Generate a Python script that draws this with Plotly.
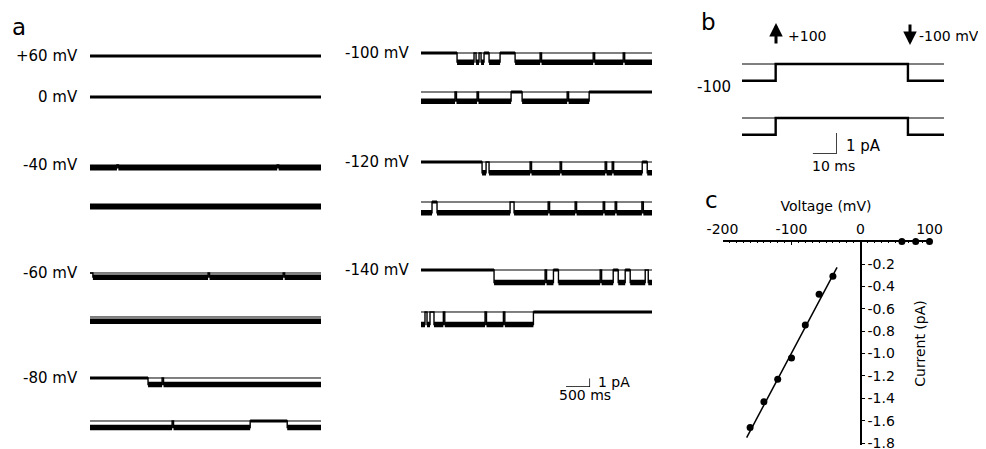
import plotly.graph_objects as go

W, H = 986, 449
FONT = "DejaVu Sans"
PAGE_OFFSET = 8  # the page body margin shifts the figure by this many pixels

# ---------------- data ----------------
# panel c: current-voltage relation
iv_voltage = [-160, -140, -120, -100, -80, -60, -40, 60, 80, 100]
iv_current = [-1.66, -1.43, -1.23, -1.04, -0.745, -0.47, -0.31, 0.0, 0.0, 0.0]
fit_voltage = [-165, -34]
fit_current = [-1.75, -0.23]
iv_xticks = [-200, -100, 0, 100]
iv_yticks = [-0.2, -0.4, -0.6, -0.8, -1.0, -1.2, -1.4, -1.6, -1.8]

# panel a: single-channel records (ms), unitary amplitude from IV (pA)
trace_duration_ms = 4800
flicker_ms = 30
trace_voltage = [60, 0, -40, -40, -60, -60, -80, -80,
                 -100, -100, -120, -120, -140, -140]
trace_open = [
    [], [],
    [[0, 4800]], [[0, 4800]],
    [[60, 4800]], [[0, 4800]],
    [[1206, 4800]], [[0, 3328], [4098, 4800]],
    [[749, 1102], [1144, 1206], [1248, 1310], [1414, 1643], [1955, 4800]],
    [[0, 1872], [2101, 3494]],
    [[1269, 1352], [1414, 4597], [4701, 4800]],
    [[0, 229], [333, 1851], [1934, 4800]],
    [[1518, 2752], [2856, 3994], [4098, 4243], [4347, 4659], [4722, 4800]],
    [[0, 83], [125, 187], [270, 2336]],
]
trace_flickers = [
    [], [], [560, 3890], [], [2454, 4014], [], [1498], [1706],
    [2475, 3578, 4202], [707, 1165, 3037], [2267, 2891, 3827, 3973],
    [2642, 3203, 3786, 4035, 4590], [2579, 3723], [464, 1331, 1712],
]
trace_labels = ["+60 mV", "0 mV", "-40 mV", "", "-60 mV", "", "-80 mV", "",
                "-100 mV", "", "-120 mV", "", "-140 mV", ""]
scale_a_ms, scale_a_pA = 500, 1

# panel b: voltage jump -100 -> +100 -> -100 mV
b_duration_ms = 84
b_pulse_on_ms = 14
b_pulse_off_ms = 69
b_open_current = -0.8
b_pulse_current = 0.0
scale_b_ms, scale_b_pA = 10, 1

unit_current = dict(zip(iv_voltage, iv_current))
unit_current[0] = 0.0

# ---------------- layout helpers ----------------
def fx(px):
    return (px - PAGE_OFFSET) / W

def fy(py):
    return 1 - (py - PAGE_OFFSET) / H

# trace placement (pixels): closed-level row and left edge
row_y = [56, 97, 165, 204, 273, 317, 378, 421, 53, 92, 162, 202, 270, 312]
col_x0 = [90] * 8 + [421] * 6
TRACE_W = 231
PX_PER_PA = 8.8
Y_LO, Y_HI = -2.2, 0.8

fig = go.Figure()
layout = {}
annotations = []
ax_n = [0]


def new_axes(x0, x1, ytop, ybot, xr, yr):
    ax_n[0] += 1
    n = ax_n[0]
    s = "" if n == 1 else str(n)
    layout["xaxis" + s] = dict(domain=[fx(x0), fx(x1)], range=xr, anchor="y" + s,
                               visible=False, fixedrange=True, automargin=False)
    layout["yaxis" + s] = dict(domain=[fy(ybot), fy(ytop)], range=yr, anchor="x" + s,
                               visible=False, fixedrange=True, automargin=False)
    return "x" + s, "y" + s


def segments(open_iv, flick, dur):
    segs = []
    t = 0
    for a, b in open_iv:
        if a > t:
            segs.append((t, a, False))
        cur = a
        for f in sorted(v for v in flick if a < v < b):
            segs.append((cur, f, True))
            e = min(f + flicker_ms, b)
            segs.append((f, e, False))
            cur = e
        segs.append((cur, b, True))
        t = b
    if t < dur:
        segs.append((t, dur, False))
    return segs


def line(xa, ya, xs, ys, w, color="black"):
    fig.add_trace(go.Scatter(x=xs, y=ys, xaxis=xa, yaxis=ya, mode="lines",
                             line=dict(color=color, width=w), hoverinfo="skip",
                             showlegend=False, cliponaxis=False))


for i, v in enumerate(trace_voltage):
    x0 = col_x0[i]
    yc = row_y[i]
    xa, ya = new_axes(x0, x0 + TRACE_W, yc - Y_HI * PX_PER_PA, yc - Y_LO * PX_PER_PA,
                      [0, trace_duration_ms], [Y_LO, Y_HI])
    lvl = unit_current[v]
    segs = segments(trace_open[i], trace_flickers[i], trace_duration_ms)
    if lvl != 0:
        line(xa, ya, [0, trace_duration_ms], [0, 0], 1.0)
    wx, wy = [], []
    ox, oy, cx, cy = [], [], [], []
    for s, e, op in segs:
        y = lvl if op else 0
        wx += [s, e]
        wy += [y, y]
        if op:
            ox += [s, e, None]
            oy += [y, y, None]
        elif e - s > 100:
            cx += [s, e, None]
            cy += [0, 0, None]
    line(xa, ya, wx, wy, 1.4)
    if cx:
        line(xa, ya, cx, cy, 3.2)
    if ox and lvl != 0:
        line(xa, ya, ox, oy, 5.5)
    if trace_labels[i]:
        annotations.append(dict(x=fx(x0 - 10), y=fy(yc), xref="paper", yref="paper",
                                text=trace_labels[i], showarrow=False, xanchor="right",
                                yanchor="middle", font=dict(size=15, family=FONT, color="black")))

# scale bar panel a
xa, ya = new_axes(566, 566 + 500 / 4800 * TRACE_W, 387 - PX_PER_PA, 387,
                  [0, scale_a_ms], [0, scale_a_pA])
line(xa, ya, [0, scale_a_ms, scale_a_ms], [0, 0, scale_a_pA], 1.5)
annotations.append(dict(x=fx(596), y=fy(382), xref="paper", yref="paper", text="1 pA",
                        showarrow=False, xanchor="left", yanchor="middle",
                        font=dict(size=14, family=FONT, color="black")))
annotations.append(dict(x=fx(585), y=fy(395), xref="paper", yref="paper", text="500 ms",
                        showarrow=False, xanchor="center", yanchor="middle",
                        font=dict(size=14, family=FONT, color="black")))

# ---------------- panel b ----------------
B_PX_PER_PA = 21
B_X0, B_X1 = 742, 944
for yc in [64, 118]:
    xa, ya = new_axes(B_X0, B_X1, yc - 0.4 * B_PX_PER_PA, yc + 1.2 * B_PX_PER_PA,
                      [0, b_duration_ms], [-1.2, 0.4])
    line(xa, ya, [0, b_duration_ms], [0, 0], 1.0)
    bx = [0, b_pulse_on_ms, b_pulse_on_ms, b_pulse_off_ms, b_pulse_off_ms, b_duration_ms]
    by = [b_open_current, b_open_current, b_pulse_current, b_pulse_current,
          b_open_current, b_open_current]
    line(xa, ya, bx, by, 2.4)

xa, ya = new_axes(812.7, 812.7 + scale_b_ms * (B_X1 - B_X0) / b_duration_ms,
                  154 - B_PX_PER_PA, 154, [0, scale_b_ms], [0, scale_b_pA])
line(xa, ya, [0, scale_b_ms, scale_b_ms], [0, 0, scale_b_pA], 1.5)

for txt, x, y, anc, sz in [("1 pA", 844, 146, "left", 15), ("10 ms", 833, 166, "center", 14),
                           ("+100", 786, 36, "left", 14), ("-100 mV", 917, 36, "left", 14),
                           ("-100", 733, 87, "right", 15)]:
    annotations.append(dict(x=fx(x), y=fy(y), xref="paper", yref="paper", text=txt,
                            showarrow=False, xanchor=anc, yanchor="middle",
                            font=dict(size=sz, family=FONT, color="black")))

for x, tip, tail in [(776, 23, 45), (910, 45, 23)]:
    annotations.append(dict(x=fx(x), y=fy(tip), xref="paper", yref="paper", text="",
                            showarrow=True, ax=0, ay=tail - tip, arrowhead=2,
                            arrowsize=0.9, arrowwidth=3, arrowcolor="black"))

# ---------------- panel c ----------------
ax_n[0] += 1
s = str(ax_n[0])
IV_X0, IV_X1 = 722.5, 929.5
IV_Y0, IV_Y1 = 241.6, 445.4
layout["xaxis" + s] = dict(domain=[fx(IV_X0), fx(IV_X1)], range=[-200, 100], anchor="y" + s,
                           side="top", showline=True, linecolor="black", linewidth=1.5,
                           ticks="inside", ticklen=4, tickcolor="black", tickwidth=1,
                           tickvals=iv_xticks, ticktext=[str(t) for t in iv_xticks],
                           minor=dict(ticks="inside", ticklen=2, dtick=10, tickcolor="black"),
                           showgrid=False, zeroline=False, fixedrange=True, automargin=False,
                           tickfont=dict(size=14, family=FONT, color="black"),
                           title=dict(text="Voltage (mV)", standoff=6,
                                      font=dict(size=14, family=FONT, color="black")))
layout["yaxis" + s] = dict(domain=[fy(IV_Y1), fy(IV_Y0)], range=[-1.82, 0], anchor="free",
                           position=fx(861), side="right", showline=True, linecolor="black",
                           linewidth=1.5, ticks="outside", ticklen=3, tickcolor="black",
                           tickvals=iv_yticks, ticktext=["%.1f" % t for t in iv_yticks],
                           showgrid=False, zeroline=False, fixedrange=True, automargin=False,
                           tickfont=dict(size=14, family=FONT, color="black"),
                           title=dict(text="Current (pA)", standoff=20,
                                      font=dict(size=14, family=FONT, color="black")))
fig.add_trace(go.Scatter(x=fit_voltage, y=fit_current, xaxis="x" + s, yaxis="y" + s,
                         mode="lines", line=dict(color="black", width=1.5),
                         showlegend=False, hoverinfo="skip", cliponaxis=False))
fig.add_trace(go.Scatter(x=iv_voltage, y=iv_current, xaxis="x" + s, yaxis="y" + s,
                         mode="markers", marker=dict(color="black", size=7),
                         showlegend=False, cliponaxis=False))

# panel letters
for txt, x, y in [("a", 10, 27), ("b", 699, 22), ("c", 703, 200)]:
    annotations.append(dict(x=fx(x), y=fy(y), xref="paper", yref="paper", text=txt,
                            showarrow=False, xanchor="left", yanchor="middle",
                            font=dict(size=23, family=FONT, color="black")))

fig.update_layout(width=W, height=H, margin=dict(l=0, r=0, t=0, b=0, autoexpand=False),
                  paper_bgcolor="white", plot_bgcolor="white",
                  annotations=annotations, showlegend=False, **layout)
fig.write_html("out.html")
